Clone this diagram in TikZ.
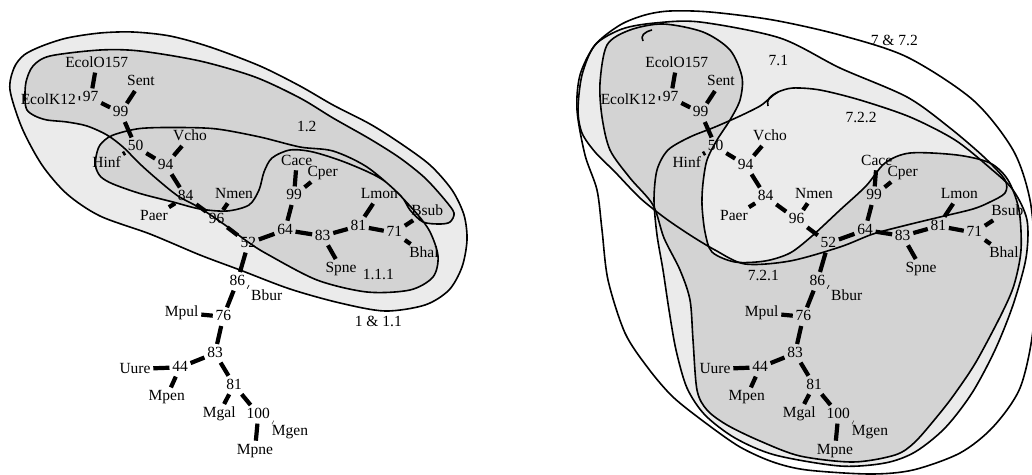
\documentclass[tikz,border=0pt]{standalone}
\usepackage{fontspec}
\setmainfont{Liberation Serif}
\definecolor{lt}{RGB}{235,235,235}
\definecolor{dk}{RGB}{211,211,211}
\tikzset{
  lab/.style={font=\fontsize{15.5}{18}\selectfont, inner sep=2.6pt, text height=10.5pt, text depth=2.5pt},
  tedge/.style={line width=4.2pt},
  hull/.style={line width=1.6pt, line join=round},
  tag/.style={font=\fontsize{15.5}{18}\selectfont, inner sep=0pt}
}
\newcommand\drawtree[1]{%
 \node[lab] (#1EO) at (96.7,63.3) {EcolO157};
 \node[lab] (#1Se) at (141,81.7) {Sent};
 \node[lab] (#1EK) at (48.3,100) {EcolK12};
 \node[lab] (#1a97) at (90.7,97.7) {97};
 \node[lab] (#1a99) at (120.7,112.7) {99};
 \node[lab] (#1a50) at (135.7,146.7) {50};
 \node[lab] (#1Vc) at (190,136.7) {Vcho};
 \node[lab] (#1Hi) at (106.7,163.3) {Hinf};
 \node[lab] (#1a94) at (165.7,165) {94};
 \node[lab] (#1a84) at (185.7,196.7) {84};
 \node[lab] (#1Nm) at (234,194) {Nmen};
 \node[lab] (#1Pa) at (154,216.5) {Paer};
 \node[lab] (#1a96) at (216.7,219.3) {96};
 \node[lab] (#1a52) at (248.3,243.3) {52};
 \node[lab] (#1Ca) at (296.7,161) {Cace};
 \node[lab] (#1Cp) at (322.7,172.7) {Cper};
 \node[lab] (#1b99) at (294,195.7) {99};
 \node[lab] (#1a64) at (285,230) {64};
 \node[lab] (#1a83) at (322.7,236) {83};
 \node[lab] (#1a81) at (358.3,226) {81};
 \node[lab] (#1Lm) at (379.3,194.3) {Lmon};
 \node[lab] (#1a71) at (394.3,232.7) {71};
 \node[lab] (#1Bs) at (427.3,211) {Bsub};
 \node[lab] (#1Bh) at (424,253.3) {Bhal};
 \node[lab] (#1Sp) at (341,268.3) {Spne};
 \node[lab] (#1a86) at (237.3,281.3) {86};
 \node[lab] (#1Bb) at (266.7,296.3) {Bbur};
 \node[lab] (#1Mpu) at (181.7,312.7) {Mpul};
 \node[lab] (#1a76) at (223.3,316.7) {76};
 \node[lab] (#1b83) at (215,353.3) {83};
 \node[lab] (#1Uu) at (135,369) {Uure};
 \node[lab] (#1a44) at (180,367.3) {44};
 \node[lab] (#1Mpe) at (166.7,396.7) {Mpen};
 \node[lab] (#1b81) at (234,385) {81};
 \node[lab] (#1Mga) at (219.3,413.3) {Mgal};
 \node[lab] (#1a100) at (258.3,414.3) {100};
 \node[lab] (#1Mge) at (290,431.7) {Mgen};
 \node[lab] (#1Mpn) at (255,450) {Mpne};
 \draw[tedge] (#1a97) -- (#1EO);
 \draw[tedge] (#1a97) -- (#1EK);
 \draw[tedge] (#1a97) -- (#1a99);
 \draw[tedge] (#1a99) -- (#1Se);
 \draw[tedge] (#1a99) -- (#1a50);
 \draw[tedge] (#1a50) -- (#1Hi);
 \draw[tedge] (#1a50) -- (#1a94);
 \draw[tedge] (#1a94) -- (#1Vc);
 \draw[tedge] (#1a94) -- (#1a84);
 \draw[tedge] (#1a84) -- (#1Pa);
 \draw[tedge] (#1a84) -- (#1a96);
 \draw[tedge] (#1a96) -- (#1Nm);
 \draw[tedge] (#1a96) -- (#1a52);
 \draw[tedge] (#1a52) -- (#1a64);
 \draw[tedge] (#1a52) -- (#1a86);
 \draw[tedge] (#1a64) -- (#1b99);
 \draw[tedge] (#1b99) -- (#1Ca);
 \draw[tedge] (#1b99) -- (#1Cp);
 \draw[tedge] (#1a64) -- (#1a83);
 \draw[tedge] (#1a83) -- (#1Sp);
 \draw[tedge] (#1a83) -- (#1a81);
 \draw[tedge] (#1a81) -- (#1Lm);
 \draw[tedge] (#1a81) -- (#1a71);
 \draw[tedge] (#1a71) -- (#1Bs);
 \draw[tedge] (#1a71) -- (#1Bh);
 \draw[tedge] (#1a86) -- (#1Bb);
 \draw[tedge] (#1a86) -- (#1a76);
 \draw[tedge] (#1a76) -- (#1Mpu);
 \draw[tedge] (#1a76) -- (#1b83);
 \draw[tedge] (#1b83) -- (#1a44);
 \draw[tedge] (#1a44) -- (#1Uu);
 \draw[tedge] (#1a44) -- (#1Mpe);
 \draw[tedge] (#1b83) -- (#1b81);
 \draw[tedge] (#1b81) -- (#1Mga);
 \draw[tedge] (#1b81) -- (#1a100);
 \draw[tedge] (#1a100) -- (#1Mge);
 \draw[tedge] (#1a100) -- (#1Mpn);
}
\begin{document}
\begin{tikzpicture}[x=1pt,y=-1pt]
\useasboundingbox (0,0) rectangle (1032,474);
% ---------- left panel hulls ----------
\path[save path=\pO] plot[smooth cycle] coordinates {(10,90) (14,68) (24,55) (42,46) (67,38) (100,33) (133,32) (170,36) (210,47) (260,66) (300,86) (333,105) (370,124) (400,143) (430,165) (452,190) (464,215) (467,240) (462,267) (449,290) (425,305) (385,311) (340,303) (290,289) (240,270) (200,255) (150,234) (100,216) (67,194) (42,165) (22,128)};
\path[save path=\pP] plot[smooth cycle] coordinates {(25,100) (26,82) (33,66) (50,56) (100,50) (140,51) (200,61) (255,77) (300,98) (333,118) (370,139) (400,158) (425,178) (445,200) (454,213) (450,222) (440,224) (423,222) (410,210) (400,195) (367,167) (333,151) (300,147) (260,137) (217,129) (180,127.5) (140,128.5) (112,135.5) (100,145) (96,157) (96,168) (101,177) (113,184) (140,193.5) (173,202) (200,209) (227,211) (249,205) (259,190) (264,172) (272,158) (290,150) (313,152) (347,163) (383,180) (410,206) (429,230) (438,256) (433,277) (410,290) (367,292) (317,280) (267,254) (248,242) (225,225) (200,208) (178,196) (158,180) (140,164) (123,147) (107,135) (87,126) (67,122) (47,120) (35,116) (27,110)};
\path[save path=\pF] plot[smooth cycle] coordinates {(260,118) (217,129) (180,127.5) (140,128.5) (112,135.5) (100,145) (96,157) (96,168) (101,177) (113,184) (140,193.5) (173,202) (200,209) (227,211) (249,205) (259,190) (264,172) (272,158) (290,150) (313,152) (347,163) (383,180) (410,206) (400,178) (340,135)};
% ---------- right panel hulls ----------
\path[save path=\pW] plot[smooth cycle] coordinates {(773,20) (840,35) (907,57) (973,100) (1013,150) (1030,200) (1035,260) (1033,330) (1020,388) (993,427) (960,453) (913,470) (870,474) (807,470) (773,462) (740,447) (707,424) (673,397) (648,368) (625,333) (608,280) (602,230) (597,190) (585,155) (577,110) (580,75) (595,45) (620,25) (645,15) (670,11) (710,12)};
\path[save path=\pA] plot[smooth cycle] coordinates {(578,110) (582,75) (595,45) (622,29) (655,23) (700,22) (780,38) (840,68) (907,97) (950,128) (985,158) (1005,180) (1005,193) (990,202) (973,209) (940,217) (907,225) (873,234) (840,247) (790,261) (745,264) (715,250) (690,235) (665,218) (640,198) (615,172) (595,152) (582,133)};
\path[save path=\pS] plot[smooth cycle] coordinates {(770,98) (760,106) (740,116) (715,127) (690,137) (668,150) (657,170) (654,200) (657,235) (663,270) (669,310) (676,350) (687,388) (705,415) (735,438) (775,455) (840,466) (885,463) (915,452) (945,428) (972,393) (995,350) (1013,305) (1026,258) (1027,220) (1013,190) (990,168) (955,140) (910,117) (860,100) (820,90) (793,88) (778,92)};
\path[save path=\pD] plot[smooth cycle] coordinates {(600,83) (607,45) (630,30) (663,24) (703,32) (730,50) (742,77) (740,100) (730,120) (717,140) (707,160) (703,183) (702,205) (705,232) (712,252) (735,262) (765,261) (790,253) (812,236) (840,210) (866,186) (885,163) (910,153) (957,155) (990,163) (1008,180) (1019,210) (1021,250) (1014,285) (1001,315) (976,362) (956,392) (940,413) (915,442) (895,455) (853,462) (800,456) (760,441) (727,425) (707,410) (697,390) (693,340) (690,300) (680,270) (664,238) (653,205) (630,178) (610,150) (602,117)};
% fills
\path[fill=lt, use path=\pO];
\path[fill=dk, use path=\pP];
\path[fill=dk, use path=\pF];
\path[fill=lt, use path=\pA];
\path[fill=lt, use path=\pS];
\path[fill=dk, use path=\pD];
% strokes
\path[draw, hull, use path=\pO];
\path[draw, hull, use path=\pP];
\path[draw, hull, use path=\pW];
\path[draw, hull, use path=\pA];
\path[draw, hull, use path=\pS];
\path[draw, hull, use path=\pD];
% small hooks at the ends of the spline outlines
\draw[hull] (652,30) .. controls (644,32) and (640,36) .. (643,41);
\draw[hull] (778,92) .. controls (770,96) and (766,100) .. (768,106);
% hull labels
\node[tag] (t12) at (306.7,126) {1.2};
\node[tag] (t111) at (378.3,274) {1.1.1};
\node[tag] (t1) at (378.3,321) {1 \& 1.1};
\node[tag] (t7) at (894.3,40) {7 \& 7.2};
\node[tag] (t71) at (778.3,60) {7.1};
\node[tag] (t722) at (861,117.3) {7.2.2};
\node[tag] (t721) at (763.3,275) {7.2.1};
% trees
\drawtree{L}
\begin{scope}[xshift=580pt]
\drawtree{R}
\end{scope}
\end{tikzpicture}
\end{document}
